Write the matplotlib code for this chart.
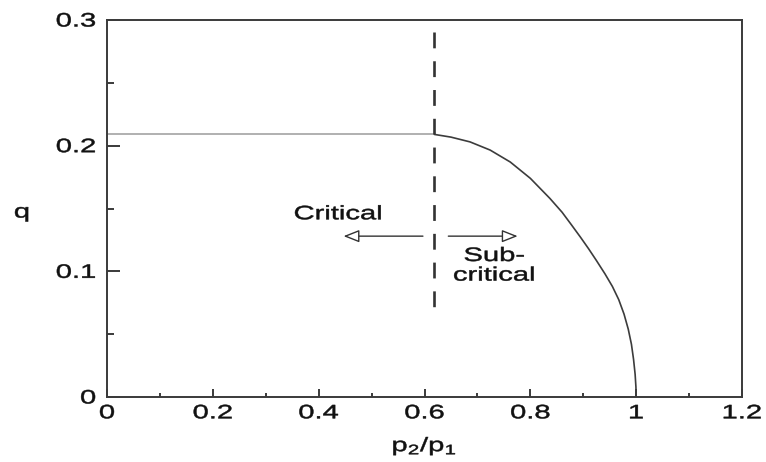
import matplotlib
matplotlib.use("Agg")
import matplotlib.pyplot as plt
from matplotlib.patches import FancyArrowPatch
from matplotlib.patheffects import AbstractPathEffect
from matplotlib.transforms import Affine2D
from matplotlib.ticker import MultipleLocator

# Critical ratio p2/p1 and the plateau of q below it
crit_ratio = 0.618
flat_x = [0.0, 0.618]
flat_q = [0.209, 0.209]

# Sub-critical branch of q(p2/p1)
curve_x = [0.618, 0.650, 0.686, 0.724, 0.762, 0.800, 0.837, 0.860, 0.878,
           0.895, 0.910, 0.925, 0.941, 0.955, 0.967, 0.977, 0.985, 0.991,
           0.995, 0.998, 0.9995, 1.0]
curve_q = [0.209, 0.2068, 0.203, 0.1965, 0.187, 0.174, 0.158, 0.147, 0.1368,
           0.127, 0.118, 0.1085, 0.098, 0.088, 0.0775, 0.066, 0.054, 0.042,
           0.030, 0.018, 0.008, 0.0]

# Extent of the dashed marker at the critical ratio
dash_q = [0.2906, 0.0696]

x_ticks = [0, 0.2, 0.4, 0.6, 0.8, 1, 1.2]
x_tick_labels = ["0", "0.2", "0.4", "0.6", "0.8", "1", "1.2"]
y_ticks = [0, 0.1, 0.2, 0.3]
y_tick_labels = ["0", "0.1", "0.2", "0.3"]


class Widen(AbstractPathEffect):
    """Stretch glyph outlines horizontally about a chosen edge of the line."""

    def __init__(self, sx=1.5, anchor="center", stroke=0.35):
        super().__init__()
        self.sx = sx
        self.anchor = anchor
        self.stroke = stroke

    def draw_path(self, renderer, gc, tpath, affine, rgbFace=None):
        ext = tpath.get_extents()
        if self.anchor == "left":
            cx = ext.x0
        elif self.anchor == "right":
            cx = ext.x1
        else:
            cx = 0.5 * (ext.x0 + ext.x1)
        t = Affine2D().translate(-cx, 0).scale(self.sx, 1.0).translate(cx, 0) + affine
        gc0 = renderer.new_gc()
        gc0.copy_properties(gc)
        if self.stroke and rgbFace is not None:
            gc0.set_linewidth(self.stroke)
            gc0.set_foreground(rgbFace)
        renderer.draw_path(gc0, tpath, t, rgbFace)
        gc0.restore()


def wide(anchor):
    return [Widen(1.5, anchor)]


plt.rcParams["font.family"] = ["Liberation Sans", "DejaVu Sans"]
plt.rcParams["mathtext.default"] = "regular"

FS = 14
INK = "#111111"
AX = "#3a3a3a"

fig = plt.figure(figsize=(7.66, 4.62), dpi=100)
ax = fig.add_axes([0.1397, 0.1407, 0.829, 0.816])

ax.plot(flat_x, flat_q, color="#a3a3a3", lw=1.2, solid_capstyle="butt")
ax.plot(curve_x, curve_q, color="#3c3c3c", lw=1.2, solid_capstyle="butt",
        solid_joinstyle="round")
ax.plot([crit_ratio, crit_ratio], dash_q, color="#333333", lw=1.9,
        linestyle=(0, (6.0, 4.9)), dash_capstyle="butt")

# Direction arrows on either side of the critical ratio
arrow_q = 0.128
for x0, x1 in [(0.597, 0.447), (0.645, 0.776)]:
    ax.add_patch(FancyArrowPatch((x0, arrow_q), (x1, arrow_q),
                                 arrowstyle="-|>,head_length=0.96,head_width=0.38",
                                 mutation_scale=10, shrinkA=0, shrinkB=0,
                                 fc="white", ec="#333333", lw=1.0))

ax.text(0.437, 0.145, "Critical", fontsize=FS, color=INK, ha="center",
        va="center", path_effects=wide("center"))
ax.text(0.732, 0.104, "Sub-\ncritical", fontsize=FS, color=INK, ha="center",
        va="center", multialignment="center", linespacing=1.2,
        path_effects=wide("center"))

ax.set_xlim(0, 1.2)
ax.set_ylim(0, 0.3)
ax.set_xticks(x_ticks)
ax.set_xticklabels(x_tick_labels)
ax.set_yticks(y_ticks)
ax.set_yticklabels(y_tick_labels)
ax.xaxis.set_minor_locator(MultipleLocator(0.1))
ax.yaxis.set_minor_locator(MultipleLocator(0.05))

ax.tick_params(axis="both", which="both", direction="in", colors=AX,
               labelcolor=INK, labelsize=FS, top=False, right=False, width=1.4)
ax.tick_params(axis="x", which="major", length=6.0, pad=6)
ax.tick_params(axis="x", which="minor", length=2.9)
ax.tick_params(axis="y", which="major", length=9.0, pad=8)
ax.tick_params(axis="y", which="minor", length=4.8)

for sp in ax.spines.values():
    sp.set_color(AX)
    sp.set_linewidth(1.4)

for lbl in ax.get_xticklabels():
    lbl.set_path_effects(wide("center"))
for lbl in ax.get_yticklabels():
    lbl.set_path_effects(wide("right"))

ax.set_xlabel("p$_2$/p$_1$", fontsize=FS, color=INK, labelpad=10,
              path_effects=wide("center"))
ax.set_ylabel("q", fontsize=FS, color=INK, rotation=0, ha="center",
              va="center", path_effects=wide("center"))
ax.yaxis.set_label_coords(-0.134, 0.488)

fig.savefig("out.png", dpi=100)
